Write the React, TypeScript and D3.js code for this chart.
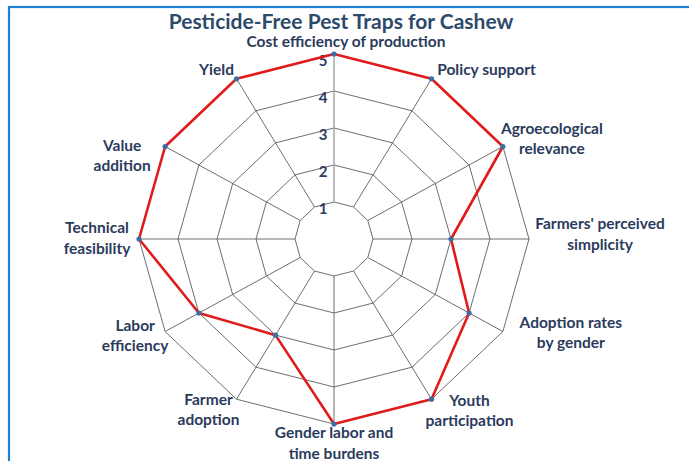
import React from "react";
import * as d3 from "d3";

// chart data
const categories = [
  "Cost efficiency of production",
  "Policy support",
  "Agroecological relevance",
  "Farmers' perceived simplicity",
  "Adoption rates by gender",
  "Youth participation",
  "Gender labor and time burdens",
  "Farmer adoption",
  "Labor efficiency",
  "Technical feasibility",
  "Value addition",
  "Yield",
];
const scores = [5, 5, 5, 3, 4, 5, 5, 3, 4, 5, 5, 5];
const ticks = [1, 2, 3, 4, 5];
const title = "Pesticide-Free Pest Traps for Cashew";

// label lines + offsets from the outer vertex (layout only)
const labelLines = [
  ["Cost efficiency of production"],
  ["Policy support"],
  ["Agroecological", "relevance"],
  ["Farmers' perceived", "simplicity"],
  ["Adoption rates", "by gender"],
  ["Youth", "participation"],
  ["Gender labor and", "time burdens"],
  ["Farmer", "adoption"],
  ["Labor", "efficiency"],
  ["Technical", "feasibility"],
  ["Value", "addition"],
  ["Yield"],
];
const labelOffsets: [number, number][] = [
  [12, -12], [55, -9], [49, -18], [71, -15], [68, -9], [38, 1],
  [0, 9], [-28, 0], [-30, -6], [-42, -11], [-43, -1], [-20, -9],
];

const W = 689;
const H = 461;
const cx = 334;
const cy = 239;
const rx = 195;
const ry = 185;

const navy = "#2b3b5c";
const font = "Lato, 'Open Sans', sans-serif";

export default function App() {
  const n = categories.length;
  const angle = d3
    .scaleLinear()
    .domain([0, n])
    .range([0, 2 * Math.PI]);
  const r = d3.scaleLinear().domain([0, 5]).range([0, 1]);

  const pt = (i: number, v: number): [number, number] => {
    const a = angle(i);
    return [cx + Math.sin(a) * rx * r(v), cy - Math.cos(a) * ry * r(v)];
  };

  const line = d3
    .line<number>()
    .x((d, i) => pt(i, d)[0])
    .y((d, i) => pt(i, d)[1])
    .curve(d3.curveLinearClosed);

  const ring = (v: number) =>
    d3.line().curve(d3.curveLinearClosed)(categories.map((_, i) => pt(i, v)));

  return (
    <svg
      width={W}
      height={H}
      style={{ position: "absolute", left: 0, top: 0, background: "#fff" }}
    >
      <rect x={9} y={7} width={W + 10} height={H + 10} fill="none" stroke="#1f7fd6" strokeWidth={2.2} />
      <text x={341} y={29} textAnchor="middle" fontFamily={font} fontWeight={700} fontSize={21} fill="#2e4a6a">
        {title}
      </text>

      {/* rings */}
      {ticks.map((t) => (
        <path key={t} d={ring(t) || ""} fill="none" stroke="#5e5e5e" strokeWidth={0.9} />
      ))}
      {/* spokes */}
      {categories.map((c, i) => {
        const [x1, y1] = pt(i, ticks[0]);
        const [x2, y2] = pt(i, ticks[ticks.length - 1]);
        return (
          <line
            key={c}
            x1={x1}
            y1={y1}
            x2={x2}
            y2={y2}
            stroke={i === 0 ? "#a0a0a0" : "#5e5e5e"}
            strokeWidth={i === 0 ? 1.4 : 0.9}
          />
        );
      })}

      {/* tick labels */}
      {ticks.map((t) => {
        const [x, y] = pt(0, t);
        return (
          <text key={t} x={x - 11} y={y + 12} textAnchor="middle" fontFamily={font} fontWeight={700} fontSize={15} fill={navy}>
            {t}
          </text>
        );
      })}

      {/* series */}
      <path d={line(scores) || ""} fill="none" stroke="#e01b1b" strokeWidth={2.6} strokeLinejoin="round" />
      {scores.map((s, i) => {
        const [x, y] = pt(i, s);
        return <circle key={i} cx={x} cy={y} r={2.6} fill="#3a6ea5" />;
      })}

      {/* category labels */}
      {labelLines.map((lines, i) => {
        const [x, y] = pt(i, 5);
        const [dx, dy] = labelOffsets[i];
        return (
          <text key={i} textAnchor="middle" fontFamily={font} fontWeight={700} fontSize={15.5} fill={navy}>
            {lines.map((l, j) => (
              <tspan key={j} x={x + dx} y={y + dy + j * 20.5} dy="0.35em">
                {l}
              </tspan>
            ))}
          </text>
        );
      })}
    </svg>
  );
}
